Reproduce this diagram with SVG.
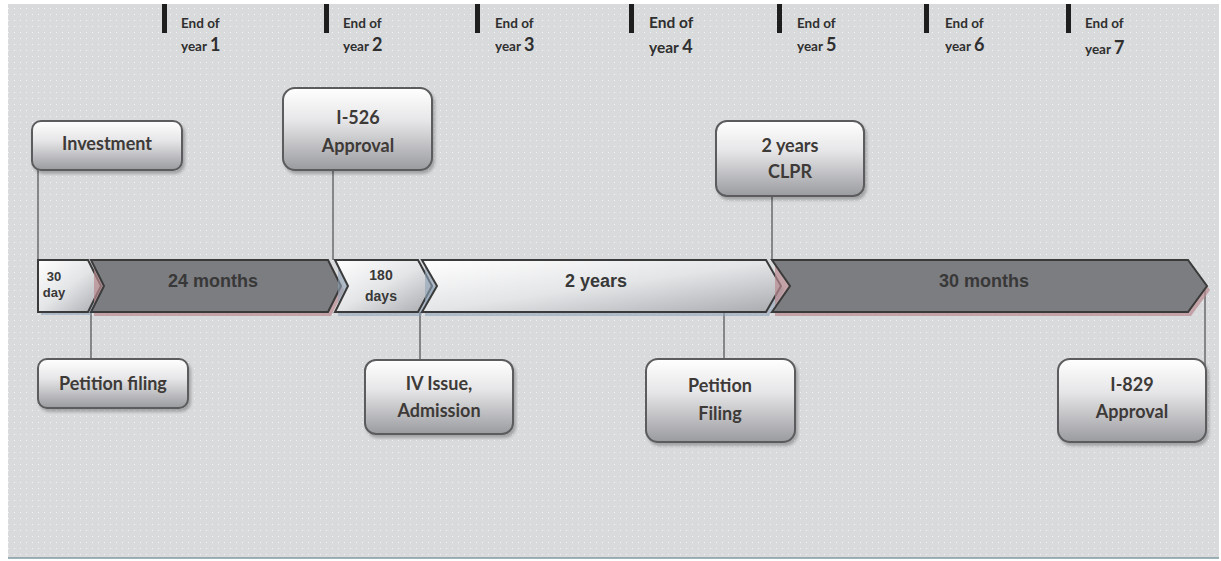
<svg xmlns="http://www.w3.org/2000/svg" width="1221" height="561" viewBox="0 0 1221 561">
<defs>
<pattern id="dots" width="6" height="6" patternUnits="userSpaceOnUse">
<rect width="6" height="6" fill="#d9dadc"/>
<rect x="2" y="2" width="1" height="1" fill="#f4f4f5"/>
</pattern>
<linearGradient id="boxg" x1="0" y1="0" x2="0" y2="1">
<stop offset="0" stop-color="#ffffff"/>
<stop offset="0.4" stop-color="#e6e6e8"/>
<stop offset="1" stop-color="#9a9b9f"/>
</linearGradient>
<linearGradient id="segw" x1="0" y1="0" x2="1" y2="1">
<stop offset="0" stop-color="#ffffff"/>
<stop offset="0.5" stop-color="#e4e5e7"/>
<stop offset="1" stop-color="#a9aaae"/>
</linearGradient>
<filter id="sh" x="-10%" y="-10%" width="130%" height="140%">
<feDropShadow dx="2" dy="3" stdDeviation="1.5" flood-color="#000" flood-opacity="0.25"/>
</filter>
</defs>
<style>
.box{fill:url(#boxg);stroke:#5c5c5e;stroke-width:2;filter:url(#sh)}
.bt{font-family:Lato,"Open Sans",sans-serif;font-weight:bold;font-size:18px;fill:#3e3a38;text-anchor:middle}
.tt{font-family:"Liberation Sans",Arial,sans-serif;font-weight:bold;fill:#383838;text-anchor:middle}
.yl{font-family:Lato,"Open Sans",sans-serif;font-weight:bold;font-size:13.5px;fill:#2f2f2f}
.yn{font-size:18px}
.bar{fill:#1e1e1e}
.seg{stroke:#3a3a3a;stroke-width:2;stroke-linejoin:miter}
.dk{fill:#7c7d81}
.wt{fill:url(#segw)}
.con{stroke:#58595b;stroke-width:1.3;fill:none}
</style>
<rect x="0" y="0" width="1221" height="561" fill="#ffffff"/>
<rect x="8" y="4" width="1211" height="554" fill="url(#dots)"/>
<line x1="8" y1="558" x2="1219" y2="558" stroke="#7f9aa0" stroke-width="1.5"/>

<g id="year-markers">
<rect class="bar" x="162" y="4" width="5" height="29"/>
<text class="yl" x="181" y="28">End of</text>
<text class="yl" x="181" y="51">year <tspan class="yn">1</tspan></text>
<rect class="bar" x="324" y="4" width="5" height="29"/>
<text class="yl" x="343" y="28">End of</text>
<text class="yl" x="343" y="51">year <tspan class="yn">2</tspan></text>
<rect class="bar" x="475" y="4" width="5" height="29"/>
<text class="yl" x="495" y="28">End of</text>
<text class="yl" x="495" y="51">year <tspan class="yn">3</tspan></text>
<rect class="bar" x="629" y="4" width="5" height="29"/>
<text class="yl" x="649" y="28" style="font-size:15.5px">End of</text>
<text class="yl" x="649" y="53" style="font-size:15.5px">year <tspan class="yn">4</tspan></text>
<rect class="bar" x="777" y="4" width="5" height="29"/>
<text class="yl" x="797" y="28">End of</text>
<text class="yl" x="797" y="51">year <tspan class="yn">5</tspan></text>
<rect class="bar" x="924" y="4" width="5" height="29"/>
<text class="yl" x="945" y="28">End of</text>
<text class="yl" x="945" y="51">year <tspan class="yn">6</tspan></text>
<rect class="bar" x="1066" y="4" width="5" height="29"/>
<text class="yl" x="1085" y="28">End of</text>
<text class="yl" x="1085" y="54">year <tspan class="yn">7</tspan></text>
</g>

<g id="connectors">
<line class="con" x1="38" y1="170" x2="38" y2="260"/>
<line class="con" x1="333" y1="170" x2="333" y2="260"/>
<line class="con" x1="772" y1="196" x2="772" y2="260"/>
<line class="con" x1="91" y1="312" x2="91" y2="358"/>
<line class="con" x1="420" y1="312" x2="420" y2="359"/>
<line class="con" x1="724" y1="312" x2="724" y2="358"/>
<line class="con" x1="1205" y1="290" x2="1205" y2="368"/>
</g>

<g id="timeline">
<g id="seg-30day">
<path d="M41,263 L91,263 L104,289 L91,315 L41,315 Z" fill="#8fa3b8" opacity="0.6"/>
<path class="seg wt" d="M38,260 L88,260 L101,286 L88,312 L38,312 Z"/>
<text class="tt" x="54" y="281" font-size="13">30</text>
<text class="tt" x="54" y="297" font-size="13">day</text>
</g>
<g id="seg-24months">
<path d="M94,264 L331,264 L344,290 L331,316 L94,316 Z" fill="#b88a8e" opacity="0.7"/>
<path class="seg dk" d="M91,260 L328,260 L341,286 L328,312 L91,312 L104,286 Z"/>
<text class="tt" x="213" y="287" font-size="18">24 months</text>
</g>
<g id="seg-180days">
<path d="M338,264 L421,264 L435,290 L421,316 L338,316 Z" fill="#8fa3b8" opacity="0.6"/>
<path class="seg wt" d="M335,260 L418,260 L432,286 L418,312 L335,312 L348,286 Z"/>
<text class="tt" x="381" y="280" font-size="14">180</text>
<text class="tt" x="381" y="301" font-size="14">days</text>
</g>
<g id="seg-2years">
<path d="M425,264 L769,264 L784,290 L769,316 L425,316 Z" fill="#8fa3b8" opacity="0.6"/>
<path class="seg wt" d="M422,260 L766,260 L781,286 L766,312 L422,312 L437,286 Z"/>
<text class="tt" x="596" y="287" font-size="18">2 years</text>
</g>
<g id="seg-30months">
<path d="M775,264 L1191,264 L1210,290 L1191,316 L775,316 Z" fill="#b88a8e" opacity="0.7"/>
<path class="seg dk" d="M772,260 L1188,260 L1207,286 L1188,312 L772,312 L790,286 Z"/>
<text class="tt" x="984" y="287" font-size="18">30 months</text>
</g>
</g>

<g id="node-investment">
<rect class="box" x="32" y="121" width="150" height="49" rx="9"/>
<text class="bt" x="107" y="150">Investment</text>
</g>
<g id="node-i526">
<rect class="box" x="283" y="88" width="149" height="82" rx="12"/>
<text class="bt" x="358" y="124">I-526</text>
<text class="bt" x="358" y="152">Approval</text>
</g>
<g id="node-clpr">
<rect class="box" x="716" y="121" width="148" height="75" rx="11"/>
<text class="bt" x="790" y="152">2 years</text>
<text class="bt" x="790" y="178">CLPR</text>
</g>
<g id="node-petition-filing">
<rect class="box" x="38" y="359" width="150" height="49" rx="9"/>
<text class="bt" x="113" y="390">Petition filing</text>
</g>
<g id="node-iv-issue">
<rect class="box" x="365" y="360" width="148" height="74" rx="11"/>
<text class="bt" x="439" y="390">IV Issue,</text>
<text class="bt" x="439" y="417">Admission</text>
</g>
<g id="node-petition-filing-2">
<rect class="box" x="646" y="359" width="149" height="83" rx="12"/>
<text class="bt" x="720" y="392">Petition</text>
<text class="bt" x="720" y="420">Filing</text>
</g>
<g id="node-i829">
<rect class="box" x="1058" y="359" width="148" height="83" rx="12"/>
<text class="bt" x="1132" y="391">I-829</text>
<text class="bt" x="1132" y="418">Approval</text>
</g>
</svg>
